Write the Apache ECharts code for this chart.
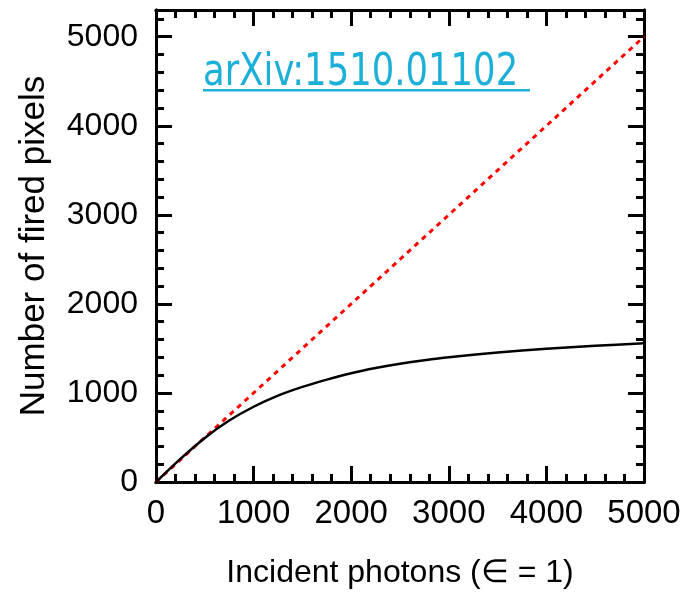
<!DOCTYPE html>
<html>
<head>
<meta charset="utf-8">
<script src="https://cdn.jsdelivr.net/npm/echarts@6/dist/echarts.min.js"></script>
<style>html,body{margin:0;padding:0;background:#fff;}#c{width:685px;height:594px;}</style>
</head>
<body>
<div id="c"></div>
<script>
// Black curve: number of fired pixels vs incident photons
const photons = [0, 250, 500, 750, 1000, 1250, 1500, 1750, 2000, 2250, 2500, 2750, 3000, 3500, 4000, 4500, 5000];
const firedPixels = [0, 260, 495, 690, 845, 970, 1068, 1150, 1222, 1280, 1328, 1368, 1402, 1455, 1497, 1530, 1557];
// Red dashed reference line (linear response)
const linearX = [0, 5000];
const linearY = [0, 5000];
const xTicks = [0, 1000, 2000, 3000, 4000, 5000];
const yTicks = [0, 1000, 2000, 3000, 4000, 5000];
const xTitle = 'Incident photons (\u2208 = 1)';
const yTitle = 'Number of fired pixels';
const noteText = 'arXiv:1510.01102';

const FONT = "'Liberation Sans', Arial, sans-serif";
const chart = echarts.init(document.getElementById('c'), null, {renderer: 'canvas'});

const LINE = {show: true, onZero: false, lineStyle: {color: '#000', width: 3}};
function axisBase(extra, minor) {
  return Object.assign({
    type: 'value', min: 0, gridIndex: 0,
    axisLine: LINE,
    axisTick: {show: true, inside: true, length: minor ? 8 : 16, lineStyle: {color: '#000', width: 3}},
    axisLabel: {show: false},
    splitLine: {show: false},
    minorTick: {show: false}
  }, extra);
}
const yLabelFmt = v => (yTicks.indexOf(v) >= 0 ? String(v) : '');
const xLabelFmt = v => (xTicks.indexOf(v) >= 0 ? String(v) : '');

const option = {
  animation: false,
  backgroundColor: '#fff',
  grid: {left: 156, right: 41, top: 10, bottom: 107, containLabel: false},
  xAxis: [
    axisBase({position: 'bottom', max: 5000, interval: 1000,
      name: xTitle, nameLocation: 'middle', nameGap: 75,
      nameTextStyle: {fontFamily: FONT, fontSize: 32, color: '#000'},
      axisLabel: {show: true, formatter: xLabelFmt, fontFamily: FONT, fontSize: 33, color: '#000', margin: 15, showMaxLabel: true}}),
    axisBase({position: 'bottom', max: 5000, interval: 200}, true),
    axisBase({position: 'top', max: 5000, interval: 1000}),
    axisBase({position: 'top', max: 5000, interval: 200}, true)
  ],
  yAxis: [
    axisBase({position: 'left', max: 5300, interval: 1000,
      name: yTitle, nameLocation: 'middle', nameGap: 104,
      nameTextStyle: {fontFamily: FONT, fontSize: 35, color: '#000'},
      axisLabel: {show: true, formatter: yLabelFmt, fontFamily: FONT, fontSize: 32, color: '#000', margin: 18, showMaxLabel: false}}),
    axisBase({position: 'left', max: 5300, interval: 200}, true),
    axisBase({position: 'right', max: 5300, interval: 1000}),
    axisBase({position: 'right', max: 5300, interval: 200}, true)
  ],
  series: [
    {
      type: 'line', xAxisIndex: 0, yAxisIndex: 0,
      data: linearX.map((x, i) => [x, linearY[i]]),
      showSymbol: false, symbol: 'none',
      lineStyle: {color: '#ff0000', width: 3, type: [5, 5]},
      z: 2
    },
    {
      type: 'line', xAxisIndex: 0, yAxisIndex: 0,
      data: photons.map((x, i) => [x, firedPixels[i]]),
      smooth: 0.3, showSymbol: false, symbol: 'none',
      lineStyle: {color: '#000', width: 2.5},
      z: 3
    }
  ],
  graphic: [
    {
      type: 'group', left: 203, top: 52,
      children: [
        {type: 'text', x: 0, y: 0, scaleX: 0.895,
          style: {text: noteText, fill: '#1cb0d8',
            font: "44px 'DejaVu Sans Condensed', 'DejaVu Sans', sans-serif",
            textVerticalAlign: 'top'}},
        {type: 'rect', shape: {x: 0, y: 37, width: 327, height: 2.5}, style: {fill: '#1cb0d8'}}
      ]
    }
  ]
};
chart.setOption(option);
</script>
</body>
</html>
